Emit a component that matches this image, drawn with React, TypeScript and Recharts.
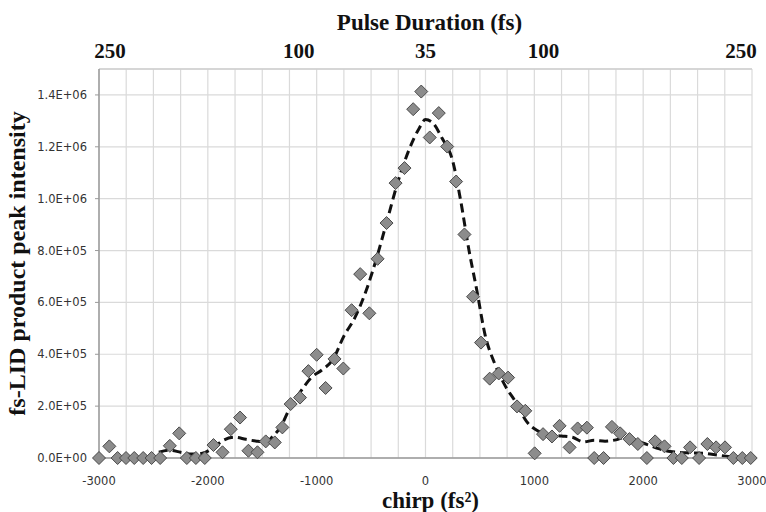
import React from 'react';
import {
    ComposedChart, Scatter, Line, XAxis, YAxis, CartesianGrid,
    ReferenceLine, Label,
} from 'recharts';

// measured points: chirp (fs^2) and product peak intensity
const chirp = [
    -3000, -2905, -2829, -2752, -2676, -2594, -2517, -2438, -2349, -2263,
    -2193, -2110, -2028, -1948, -1865, -1789, -1704, -1627, -1544, -1468,
    -1385, -1315, -1239, -1153, -1076, -1000, -918, -836, -755, -679,
    -600, -516, -440, -358, -275, -193, -113, -39, 39, 122,
    199, 281, 358, 437, 510, 590, 673, 759, 841, 917,
    1003, 1080, 1162, 1232, 1324, 1398, 1483, 1550, 1636, 1713,
    1789, 1874, 1951, 2034, 2110, 2196, 2278, 2355, 2431, 2514,
    2590, 2670, 2752, 2829, 2911, 2988,
];
const intensity = [
    0, 45000, 0, 0, 0, 0, 0, 0, 47000, 95000,
    0, 0, 0, 50000, 22000, 111000, 156000, 28000, 22000, 64000,
    60000, 118000, 208000, 233000, 335000, 398000, 270000, 382000, 345000, 570000,
    709000, 558000, 768000, 906000, 1060000, 1118000, 1345000, 1413000, 1236000, 1330000,
    1201000, 1066000, 862000, 622000, 445000, 306000, 326000, 310000, 199000, 182000,
    18000, 92000, 83000, 124000, 41000, 114000, 117000, 0, 0, 120000,
    95000, 73000, 54000, 0, 64000, 45000, 0, 0, 41000, 0,
    54000, 41000, 41000, 0, 0, 0,
];

// smoothed trend (dashed)
const fitChirp = [
    -2450, -2350, -2250, -2150, -2050, -1950, -1850, -1750, -1650, -1550,
    -1470, -1400, -1330, -1250, -1150, -1050, -950, -850, -750, -650,
    -550, -450, -350, -250, -150, -60, 0, 60, 150, 250,
    320, 400, 470, 550, 630, 730, 830, 930, 1030, 1130,
    1250, 1350, 1450, 1550, 1650, 1750, 1850, 1950, 2050, 2150,
    2250, 2400, 2550, 2700, 2800,
];
const fitIntensity = [
    22000, 30000, 22000, 15000, 18000, 40000, 70000, 80000, 72000, 65000,
    62000, 85000, 120000, 190000, 255000, 310000, 340000, 380000, 470000, 540000,
    640000, 770000, 920000, 1070000, 1190000, 1270000, 1305000, 1295000, 1235000, 1145000,
    1000000, 800000, 650000, 470000, 370000, 280000, 215000, 140000, 105000, 90000,
    85000, 80000, 62000, 68000, 65000, 70000, 82000, 65000, 50000, 35000,
    25000, 20000, 18000, 10000, 5000,
];

// top axis: pulse duration labels placed on the chirp scale
const pulseTicks = [-2900, -1165, 0, 1085, 2900];
const pulseLabels = ['250', '100', '35', '100', '250'];

const yTicks = [0, 200000, 400000, 600000, 800000, 1000000, 1200000, 1400000];
const chirpTicks = Array.from({ length: 25 }, (_, i) => -3000 + i * 250);

const points = chirp.map((x, i) => ({ x, y: intensity[i] }));
const fit = fitChirp.map((x, i) => ({ x, y: fitIntensity[i] }));

const sci = (v: number) => {
    if (v === 0) return '0.0E+00';
    const exp = Math.floor(Math.log10(v));
    const m = v / Math.pow(10, exp);
    return `${m.toFixed(1)}E+${String(exp).padStart(2, '0')}`;
};

const Diamond = (props: any) => {
    const { cx, cy } = props;
    if (cx == null || cy == null) return null;
    const r = 6.5;
    return (
        <polygon
            points={`${cx},${cy - r} ${cx + r},${cy} ${cx},${cy + r} ${cx - r},${cy}`}
            fill="#8c8c8c" stroke="#4a4a4a" strokeWidth={1}
        />
    );
};

// the top axis needs a series of its own to get a scale; this one draws nothing
const NoMark = () => <g />;

const serif = '"Liberation Serif", "Times New Roman", serif';
const sans = '"DejaVu Sans", Verdana, sans-serif';

export default function App() {
    return (
        <div style={{ width: 766, height: 512, background: '#fff' }}>
            <style>{'body{margin:0}'}</style>
            <ComposedChart width={766} height={512} margin={{ top: 14, right: 14, bottom: 0, left: 5 }}>
                <CartesianGrid stroke="#dadada" strokeWidth={1.2} />
                <XAxis
                    dataKey="x" type="number" domain={[-3000, 3000]} ticks={chirpTicks}
                    interval={0} height={54} tickLine={false} tickSize={6} tickMargin={13}
                    axisLine={{ stroke: '#9a9a9a', strokeWidth: 1.5 }}
                    tickFormatter={(v: number) => (v % 1000 === 0 ? String(v) : '')}
                    tick={{ fill: '#333', fontSize: 11.5, fontFamily: sans }}
                >
                    <Label
                        value="chirp (fs²)" position="insideBottom" offset={4} dx={5}
                        style={{ fontFamily: serif, fontWeight: 700, fontSize: 23, fill: '#111' }}
                    />
                </XAxis>
                <XAxis
                    xAxisId="top" orientation="top" dataKey="x" type="number" domain={[-3000, 3000]}
                    allowDataOverflow ticks={pulseTicks} interval={0} height={55}
                    axisLine={false} tickLine={false} tickSize={6} tickMargin={5}
                    tickFormatter={(v: number) => pulseLabels[pulseTicks.indexOf(v)] ?? ''}
                    tick={{ fill: '#111', fontSize: 21, fontFamily: serif, fontWeight: 700 }}
                >
                    <Label
                        value="Pulse Duration (fs)" position="insideTop" offset={0} dx={4}
                        style={{ fontFamily: serif, fontWeight: 700, fontSize: 23, fill: '#111' }}
                    />
                </XAxis>
                <YAxis
                    type="number" domain={[0, 1500000]} ticks={yTicks} width={94}
                    tickSize={4} tickMargin={8} tickFormatter={sci}
                    axisLine={{ stroke: '#9a9a9a', strokeWidth: 1.5 }}
                    tickLine={{ stroke: '#9a9a9a' }}
                    tick={{ fill: '#333', fontSize: 11.5, fontFamily: sans }}
                >
                    <Label
                        value="fs-LID product peak intensity" angle={-90} position="insideLeft" offset={11}
                        style={{ fontFamily: serif, fontWeight: 700, fontSize: 24, fill: '#111', textAnchor: 'middle' }}
                    />
                </YAxis>
                <ReferenceLine y={1500000} stroke="#cfcfcf" strokeWidth={1.5} />
                <Scatter xAxisId="top" data={points} dataKey="y" shape={NoMark} isAnimationActive={false} />
                <Scatter data={points} dataKey="y" shape={Diamond} isAnimationActive={false} />
                <Line
                    data={fit} dataKey="y" type="monotone" stroke="#111" strokeWidth={3}
                    strokeDasharray="9 5" dot={false} activeDot={false} isAnimationActive={false}
                />
            </ComposedChart>
        </div>
    );
}
